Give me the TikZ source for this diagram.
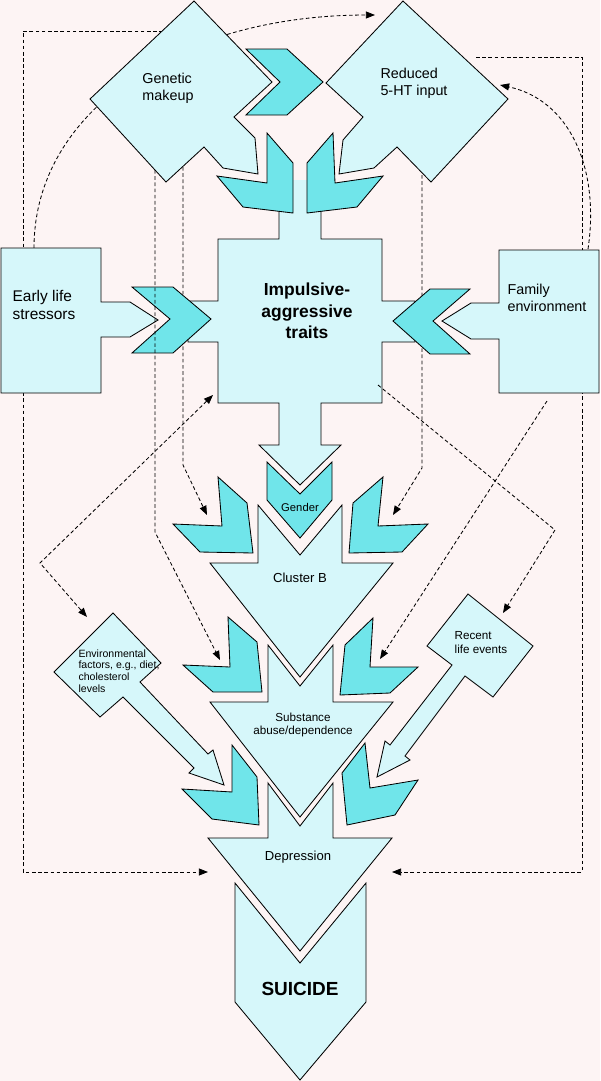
\documentclass[tikz,border=0pt]{standalone}
\usepackage{fontspec}
\setmainfont{Liberation Sans}
\usepackage{xcolor}
\usetikzlibrary{arrows.meta, calc}

\definecolor{bgpink}{RGB}{253,244,244}
\definecolor{palecyan}{RGB}{214,247,250}
\definecolor{deepcyan}{RGB}{112,229,234}

\tikzset{
    flowdiagram/.style={x=0.025cm, y=-0.025cm, line join=miter, >={Triangle[length=6.5pt,width=5pt]}},
    lightblock/.style={draw=black, fill=palecyan, line width=0.6pt},
    chevron/.style={draw=black, fill=deepcyan, line width=0.6pt},
    influence/.style={black, line width=0.6pt, dash pattern=on 2.6pt off 1.8pt},
    caption/.style={inner sep=0pt, align=left, font=\fontsize{10.2}{11.9}\selectfont},
    % smaller captions inside the lower arrows
    smallcap/.style={inner sep=0pt, align=center, font=\fontsize{9.3}{11}\selectfont},
    tinycap/.style={inner sep=0pt, align=left, font=\fontsize{7.5}{8.3}\selectfont},
    boldcap/.style={inner sep=0pt, align=center, font=\bfseries\fontsize{12.4}{15.4}\selectfont},
}

\begin{document}
\begin{tikzpicture}[flowdiagram]
    \useasboundingbox (0,0) rectangle (600,1081);
    \fill[bgpink] (0,0) rectangle (600,1081);

    % end points of the dashed links
    \coordinate (gm-w)      at (163,31);
    \coordinate (gm-s1)     at (155,170);
    \coordinate (gm-s2)     at (183,167);
    \coordinate (ht-e)      at (476,57);
    \coordinate (ht-nw)     at (375,15);
    \coordinate (ht-ne)     at (500,85);
    \coordinate (ht-s)      at (422,175);
    \coordinate (els-n)     at (34,248);
    \coordinate (fam-n)     at (588,249);
    \coordinate (fam-s)     at (547,401);
    \coordinate (imp-se)    at (378,385);
    \coordinate (imp-sw)    at (213,395);
    \coordinate (clb-lchev) at (207,515);
    \coordinate (clb-rchev) at (393,515);
    \coordinate (sub-lchev) at (220,660);
    \coordinate (sub-rchev) at (380,659);
    \coordinate (env-n)     at (87,617);
    \coordinate (rle-ne)    at (503,613);
    \coordinate (dep-w)     at (208,872);
    \coordinate (dep-e)     at (392,872);

    % links running behind the shapes
    \draw[influence,->] (gm-w) -- ++(-140,0) |- (dep-w);
    \draw[influence,->] (ht-e) -- ++(106,0) |- (dep-e);
    \draw[influence,->] (els-n) .. controls +(0,-138) and +(-195,0) .. (ht-nw);
    \draw[influence,->] (fam-n) .. controls +(12,-80) and +(70,15) .. (ht-ne);
    \draw[influence,->] (gm-s2) -- ++(0,298) -- (clb-lchev);
    \draw[influence,->] (ht-s) -- ++(0,293) -- (clb-rchev);

    % top row
    \draw[lightblock] (194,1) -- (272,82) -- (234,117) -- (255,138) -- (258,174) -- (223,168)
        -- (204,147) -- (166,182) -- (90,99) -- cycle;
    \draw[lightblock] (403,1) -- (508,99) -- (431,182) -- (397,147) -- (374,168) -- (339,174)
        -- (343,140) -- (363,117) -- (326,83) -- cycle;
    \draw[chevron] (246,49) -- (287,49) -- (323,82) -- (287,115) -- (246,115) -- (280,82) -- cycle;

    % central cross
    \fill[palecyan] (279,180) -- (279,239) -- (218,239) -- (218,301) -- (188,301) -- (188,342)
        -- (218,342) -- (218,403) -- (279,403) -- (279,445) -- (259,445) -- (300,485)
        -- (341,445) -- (321,445) -- (321,403) -- (382,403) -- (382,342) -- (415,342)
        -- (415,301) -- (382,301) -- (382,239) -- (321,239) -- (321,180) -- cycle;
    \draw[line width=0.6pt] (279,180) -- (279,239) -- (218,239) -- (218,301) -- (188,301) -- (188,342)
        -- (218,342) -- (218,403) -- (279,403) -- (279,445) -- (259,445) -- (300,485)
        -- (341,445) -- (321,445) -- (321,403) -- (382,403) -- (382,342) -- (415,342)
        -- (415,301) -- (382,301) -- (382,239) -- (321,239) -- (321,180);
    \draw[chevron] (267,133) -- (293,163) -- (293,213) -- (243,207) -- (217,176) -- (267,183) -- cycle;
    \draw[chevron] (333,133) -- (307,163) -- (307,213) -- (357,207) -- (383,176) -- (335,183) -- cycle;

    % side boxes
    \draw[lightblock] (1,248) -- (101,248) -- (101,302) -- (130,302) -- (158,320) -- (130,337)
        -- (101,337) -- (101,393) -- (1,393) -- cycle;
    \draw[lightblock] (499,250) -- (599,250) -- (599,393) -- (499,393) -- (499,339) -- (471,339)
        -- (442,321) -- (471,303) -- (499,303) -- cycle;
    \draw[chevron] (132,287) -- (173,287) -- (211,319) -- (173,353) -- (132,353) -- (170,319) -- cycle;
    \draw[chevron] (470,289) -- (430,289) -- (393,321) -- (430,354) -- (470,354) -- (433,321) -- cycle;

    % downward chain
    \draw[chevron] (267,462) -- (300,494) -- (332,462) -- (332,500) -- (300,538) -- (267,500) -- cycle;
    \draw[lightblock] (258,505) -- (300,555) -- (342,505) -- (342,563) -- (393,563) -- (300,677)
        -- (210,563) -- (258,563) -- cycle;
    \draw[chevron] (218,477) -- (247,503) -- (253,553) -- (200,552) -- (173,524) -- (222,526) -- cycle;
    \draw[chevron] (383,477) -- (353,503) -- (349,553) -- (402,552) -- (428,524) -- (378,526) -- cycle;

    \draw[lightblock] (268,645) -- (300,686) -- (333,645) -- (333,702) -- (393,702) -- (300,817)
        -- (210,702) -- (268,702) -- cycle;
    \draw[chevron] (228,617) -- (257,642) -- (262,692) -- (213,692) -- (183,665) -- (230,667) -- cycle;
    \draw[chevron] (373,618) -- (345,645) -- (340,695) -- (390,693) -- (418,667) -- (370,667) -- cycle;

    \draw[lightblock] (268,783) -- (300,826) -- (333,783) -- (333,838) -- (392,838) -- (300,951)
        -- (208,838) -- (268,838) -- cycle;
    \draw[chevron] (232,745) -- (257,777) -- (259,825) -- (212,819) -- (182,789) -- (232,792) -- cycle;
    \draw[chevron] (365,743) -- (342,773) -- (347,825) -- (395,815) -- (418,780) -- (370,788) -- cycle;

    \draw[lightblock] (235,883) -- (300,963) -- (366,883) -- (366,1002) -- (300,1080) -- (235,1002) -- cycle;

    % small diamonds with their arrows
    \draw[lightblock] (113,613) -- (161,663) -- (140,682) -- (208,754) -- (213,750) -- (224,785)
        -- (189,773) -- (194,768) -- (123,697) -- (100,717) -- (54,672) -- cycle;
    \draw[lightblock] (468,594) -- (533,646) -- (493,697) -- (465,676) -- (405,756) -- (410,760)
        -- (377,777) -- (385,741) -- (390,745) -- (452,665) -- (427,646) -- cycle;

    % links drawn over the shapes
    \draw[influence,->] (gm-s1) -- ++(0,362) -- (sub-lchev);
    \draw[influence,->] (fam-s) -- (sub-rchev);
    \draw[influence,->] (imp-se) -- ++(177,145) -- (rle-ne);
    \draw[influence,<->] (imp-sw) -- ++(-173,168) -- (env-n);

    % labels
    \node[caption]                                          (gm)  at (168,88)  {Genetic\\makeup};
    \node[caption]                                          (ht)  at (414,83)  {Reduced\\5-HT input};
    \node[caption, font=\fontsize{11}{13}\selectfont]       (els) at (44,305)  {Early life\\stressors};
    \node[caption]                                          (fam) at (547,298) {Family\\environment};
    \node[boldcap]                                          (imp) at (307,311) {Impulsive-\\aggressive\\traits};
    \node[smallcap, font=\fontsize{8}{9}\selectfont]        (gen) at (300,507) {Gender};
    \node[smallcap]                                         (clb) at (300,578) {Cluster B};
    \node[smallcap, font=\fontsize{8.3}{9.5}\selectfont]    (sub) at (303,725) {Substance\\abuse/dependence};
    \node[smallcap]                                         (dep) at (298,857) {Depression};
    \node[boldcap, font=\bfseries\fontsize{13.5}{15}\selectfont] (sui) at (300,989) {SUICIDE};
    \node[tinycap]                                          (env) at (119,671) {Environmental\\factors, e.g., diet,\\cholesterol\\levels};
    \node[tinycap, font=\fontsize{8.3}{10}\selectfont]      (rle) at (481,643) {Recent\\life events};
\end{tikzpicture}
\end{document}
